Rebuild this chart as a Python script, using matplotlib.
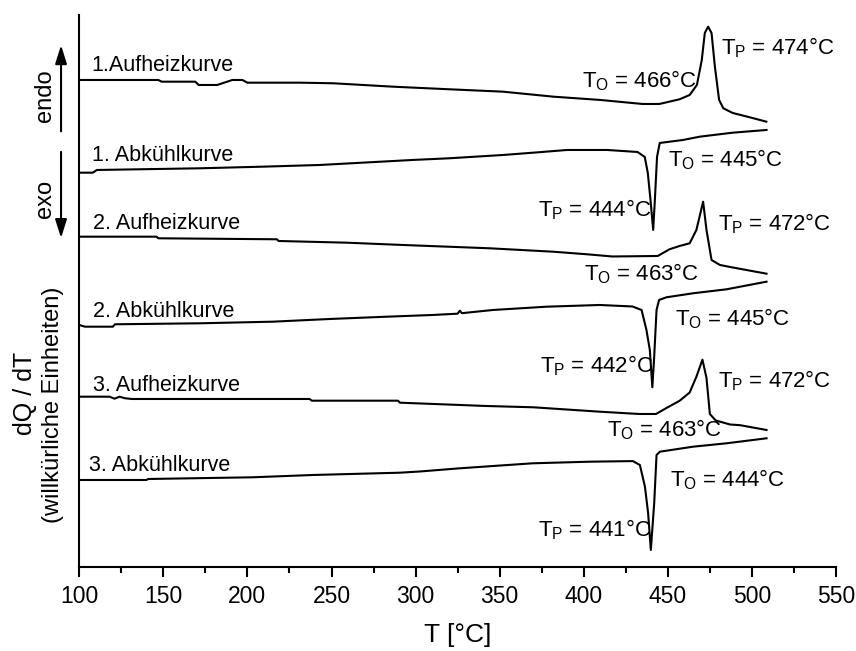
import matplotlib
matplotlib.use("Agg")
import matplotlib.pyplot as plt
from matplotlib.patches import FancyArrowPatch
from matplotlib.ticker import MultipleLocator

plt.rcParams['font.family'] = ['Liberation Sans', 'DejaVu Sans']
plt.rcParams['mathtext.fontset'] = 'custom'
plt.rcParams['mathtext.rm'] = 'Liberation Sans'
plt.rcParams['mathtext.it'] = 'Liberation Sans:italic'

# DSC curves (T in °C, signal in arbitrary units incl. offset)
heat1_T = [100, 147, 149, 169, 171, 182, 188, 191, 197, 200, 231, 251, 286.5, 316, 352, 382,
           410, 435, 445, 457, 463, 467.3, 470.2, 472, 474, 476, 478, 480.5, 483, 488.6, 498.7, 508.6]
heat1_y = [486.7, 486.7, 485, 485, 481.7, 481.7, 485, 486.7, 486.7, 484, 484, 483.4, 480, 477.7, 475, 470,
           466.7, 462.7, 462.7, 467.4, 471.7, 481.7, 506.7, 533.7, 540, 533.7, 500, 466.7, 458.4, 453.7, 449.4, 445]

cool1_T = [100, 108, 110.5, 172, 209, 243, 298, 320, 352, 370, 390, 414, 432, 436.3, 438.1,
           439.7, 441.3, 442.3, 443.6, 445.2, 459, 469, 488.6, 508.7]
cool1_y = [394, 394, 396.7, 398.4, 400, 401.7, 406.7, 408.4, 411.7, 414, 416.7, 416.7, 414.7, 409.7, 393.7,
           366.7, 336.7, 366.7, 410, 423.7, 426.7, 430, 434, 436.7]

heat2_T = [100, 146, 147, 217.5, 218.5, 259, 292.5, 344, 381.6, 402, 417, 444, 451, 457, 463,
           467, 471, 473, 476, 481, 488.6, 508.7]
heat2_y = [330, 330, 328.4, 327.4, 325.7, 324, 321.7, 318.4, 315, 312.4, 310.2, 310.7, 317.4, 320.7, 323.4,
           336.7, 365, 336.7, 306.7, 301.7, 299.2, 293]

cool2_T = [100, 103.4, 120, 121.2, 172, 215, 249, 283, 310, 325, 326.3, 327.5, 346, 378, 409.5, 429,
           434.4, 437.3, 439.3, 440.8, 441.9, 443.3, 444.8, 449.2, 465, 485, 508.7]
cool2_y = [241.7, 240, 240, 242.4, 243.4, 245, 247.7, 250, 251.7, 253, 256, 253.5, 256.7, 260, 261.7, 260.2,
           256.7, 236.7, 216.7, 179.4, 210, 256.7, 266.7, 269.4, 273.4, 277.4, 285]

heat3_T = [100, 118, 121, 124, 127, 131.3, 237, 238.3, 289.5, 290.7, 342, 370, 409.5, 433, 443,
           449.2, 457, 463, 467, 470.6, 473, 475, 478.5, 487, 493, 508.7]
heat3_y = [170, 170, 168, 170, 168.5, 167.7, 167.7, 166, 166, 164, 160.7, 159.4, 155, 152.7, 152.7,
           158.7, 165.9, 174.2, 190, 207, 188.7, 152.7, 146.2, 142.2, 141.5, 136.7]

cool3_T = [100, 140, 141, 203, 239, 277, 290.7, 302.5, 326.3, 369.7, 403.6, 429.2, 433.4, 436.4,
           438.3, 439.9, 441.9, 443.3, 445.3, 465, 485, 508.7]
cool3_y = [86.7, 86.7, 87.7, 89.4, 91.7, 93.4, 94, 95.2, 98.4, 103.4, 105, 105.6, 101.7, 80,
           53.4, 16.7, 63.4, 111.7, 115, 120, 123.4, 128.4]

curve_names = ['1.Aufheizkurve', '1. Abkühlkurve', '2. Aufheizkurve',
               '2. Abkühlkurve', '3. Aufheizkurve', '3. Abkühlkurve']
name_pos = [(107.4, 496), (107.6, 405.7), (108, 337.4),
            (108.3, 250), (108.3, 176), (105.9, 96)]

# onset / peak temperatures written next to the curves
temp_labels = [r'T$_\mathrm{O}$ = 466°C', r'T$_\mathrm{P}$ = 474°C',
               r'T$_\mathrm{O}$ = 445°C', r'T$_\mathrm{P}$ = 444°C',
               r'T$_\mathrm{P}$ = 472°C', r'T$_\mathrm{O}$ = 463°C',
               r'T$_\mathrm{O}$ = 445°C', r'T$_\mathrm{P}$ = 442°C',
               r'T$_\mathrm{P}$ = 472°C', r'T$_\mathrm{O}$ = 463°C',
               r'T$_\mathrm{O}$ = 444°C', r'T$_\mathrm{P}$ = 441°C']
temp_pos = [(398.7, 479.4), (481.9, 512.7),
            (450.2, 400), (372.9, 350),
            (479.9, 336), (400.2, 286),
            (454.2, 241.7), (373.9, 194),
            (479.9, 179.4), (413.6, 130.7),
            (451.2, 80), (372.9, 30)]

curves = [(heat1_T, heat1_y), (cool1_T, cool1_y), (heat2_T, heat2_y),
          (cool2_T, cool2_y), (heat3_T, heat3_y), (cool3_T, cool3_y)]

fig = plt.figure(figsize=(8.56, 6.51), dpi=100)
ax = fig.add_axes([0.0926, 0.1295, 0.884, 0.8475])

for T, y in curves:
    ax.plot(T, y, color='black', lw=1.5)

for name, (x, y) in zip(curve_names, name_pos):
    ax.text(x, y, name, fontsize=15.5, ha='left', va='baseline')

for lab, (x, y) in zip(temp_labels, temp_pos):
    ax.text(x, y, lab, fontsize=16, ha='left', va='baseline')

ax.set_xlim(100, 550)
ax.set_ylim(0, 551.7)
ax.xaxis.set_major_locator(MultipleLocator(50))
ax.xaxis.set_minor_locator(MultipleLocator(25))
ax.tick_params(axis='x', which='major', direction='out', length=7, width=1.5,
               labelsize=16.5, pad=6)
ax.tick_params(axis='x', which='minor', direction='out', length=4.5, width=1.5)
ax.set_yticks([])
for side in ['top', 'right']:
    ax.spines[side].set_visible(False)
for side in ['left', 'bottom']:
    ax.spines[side].set_linewidth(1.5)
ax.set_xlabel('T [°C]', fontsize=19, labelpad=11)

# y label in two lines
fig.text(0.029, 0.395, 'dQ / dT', rotation=90, fontsize=18, ha='center', va='center')
fig.text(0.062, 0.378, '(willkürliche Einheiten)', rotation=90, fontsize=17,
         ha='center', va='center')

# endo / exo arrows
up = FancyArrowPatch((0.0713, 0.794), (0.0713, 0.935), transform=fig.transFigure,
                     arrowstyle='-|>,head_length=0.8,head_width=0.25', mutation_scale=14,
                     lw=1.5, color='black')
down = FancyArrowPatch((0.0713, 0.771), (0.0713, 0.630), transform=fig.transFigure,
                       arrowstyle='-|>,head_length=0.8,head_width=0.25', mutation_scale=14,
                       lw=1.5, color='black')
fig.add_artist(up)
fig.add_artist(down)
fig.text(0.0526, 0.853, 'endo', rotation=90, fontsize=17, ha='center', va='center')
fig.text(0.0526, 0.694, 'exo', rotation=90, fontsize=17, ha='center', va='center')

fig.savefig('out.png', dpi=100)
